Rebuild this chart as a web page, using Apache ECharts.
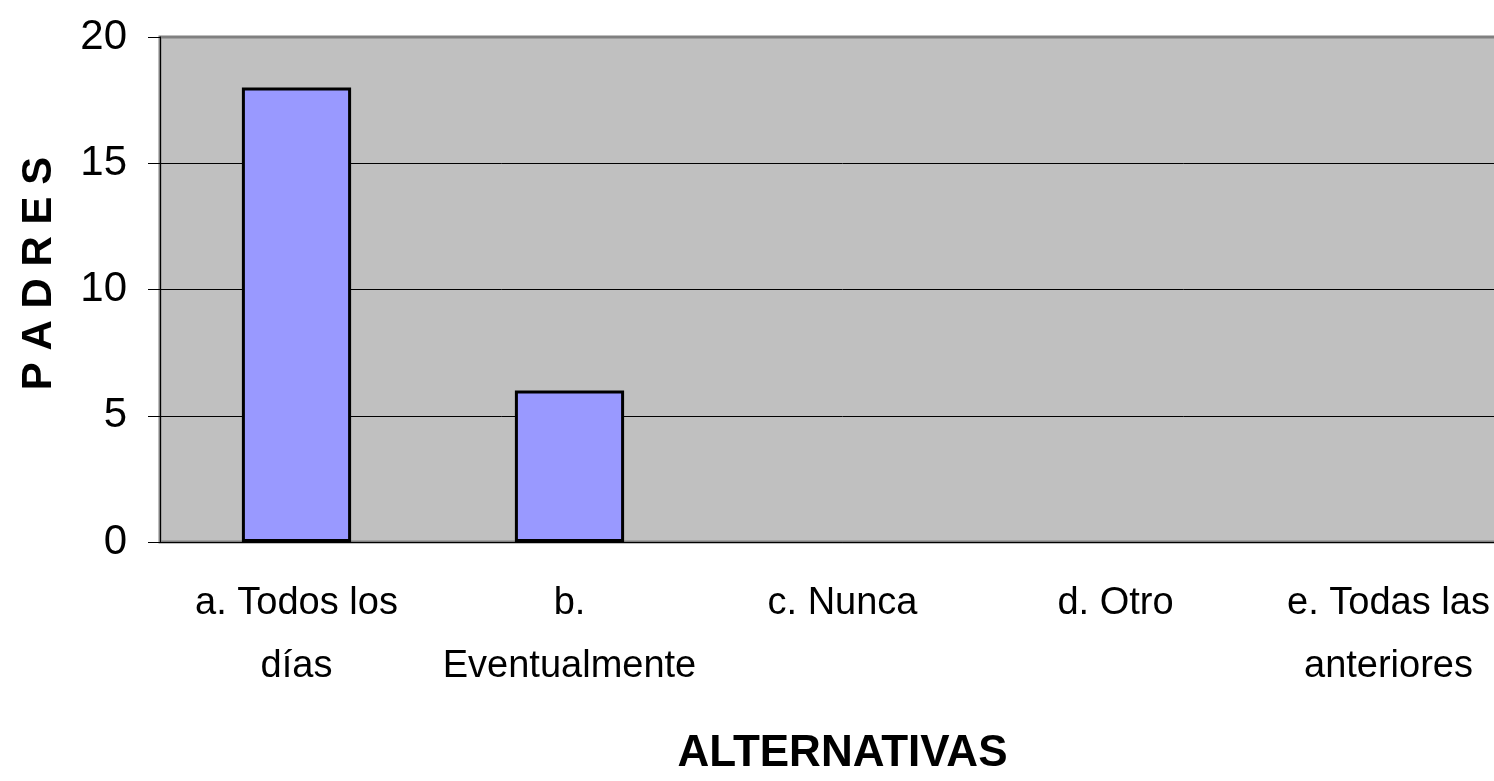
<!DOCTYPE html>
<html>
<head>
<meta charset="utf-8">
<script src="https://cdn.jsdelivr.net/npm/echarts@6/dist/echarts.min.js"></script>
<style>
  html, body { margin: 0; padding: 0; background: #fff; overflow: hidden; }
  /* the plot runs past the right edge of the picture, so the chart is wider than the window */
  #chart { width: 1525px; height: 781px; }
</style>
</head>
<body>
<div id="chart"></div>
<script>
const categories = ['a. Todos los\ndías', 'b.\nEventualmente', 'c. Nunca', 'd. Otro', 'e. Todas las\nanteriores']
const padres = [18, 6, 0, 0, 0]
const yTicks = { min: 0, max: 20, interval: 5 }

const font = '"Liberation Sans", Arial, sans-serif'

const chart = echarts.init(document.getElementById('chart'))
const option = {
  animation: false,
  textStyle: { fontFamily: font },
  grid: {
    left: 160,
    right: 0,
    top: 37,
    bottom: 234,
    show: true,
    backgroundColor: '#c0c0c0',
    borderColor: '#808080',
    borderWidth: 3
  },
  xAxis: {
    type: 'category',
    data: categories,
    name: 'ALTERNATIVAS',
    nameLocation: 'middle',
    nameGap: 190,
    nameTextStyle: {
      fontFamily: font,
      fontSize: 44,
      fontWeight: 'bold',
      color: '#000'
    },
    axisLine: { lineStyle: { color: '#000', width: 1 } },
    axisTick: { length: 13, lineStyle: { color: '#000' } },
    axisLabel: {
      interval: 0,
      margin: 30,
      fontSize: 38,
      lineHeight: 63,
      color: '#000',
      fontFamily: font
    }
  },
  yAxis: {
    type: 'value',
    min: yTicks.min,
    max: yTicks.max,
    interval: yTicks.interval,
    name: 'P A D R E S',
    nameLocation: 'middle',
    nameGap: 100,
    nameRotate: 90,
    nameTextStyle: {
      fontFamily: font,
      fontSize: 42,
      fontWeight: 'bold',
      color: '#000',
      padding: [0, 0, 0, 32]
    },
    axisLine: { show: true, lineStyle: { color: '#000', width: 1 } },
    axisTick: { show: true, length: 12, lineStyle: { color: '#000' } },
    axisLabel: {
      margin: 33,
      fontSize: 42,
      color: '#000',
      fontFamily: font
    },
    splitLine: { showMaxLine: false, lineStyle: { color: '#000', width: 1 } }
  },
  series: [
    {
      type: 'bar',
      // empty categories get no bar outline
      data: padres.map(v => (v === 0 ? null : v)),
      barWidth: '40%',
      itemStyle: {
        color: '#9999ff',
        borderColor: '#000',
        borderWidth: 3
      }
    }
  ]
}
chart.setOption(option)
</script>
</body>
</html>
